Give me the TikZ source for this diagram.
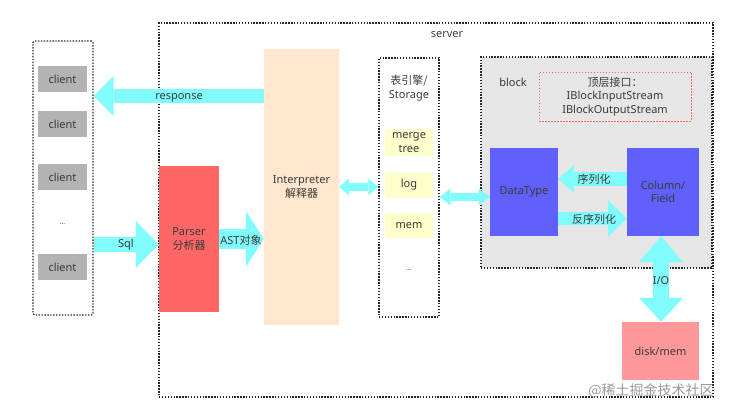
\documentclass[tikz,border=0pt]{standalone}
\usepackage{fontspec}
\setmainfont{Noto Sans}
\newfontfamily\cjk{Noto Sans CJK SC}
\usetikzlibrary{arrows.meta}
\definecolor{cy}{HTML}{80FCFC}
\definecolor{txt}{HTML}{3A3A3A}
\definecolor{cgray}{HTML}{B3B3B3}
\definecolor{peach}{HTML}{FFE6CC}
\definecolor{pred}{HTML}{FF6666}
\definecolor{pyel}{HTML}{FFFFCC}
\definecolor{blk}{HTML}{E6E6E6}
\definecolor{pblue}{HTML}{6060FF}
\definecolor{ppink}{HTML}{FF9999}
\tikzset{
  lbl/.style={text=txt, font=\fontsize{11}{13.5}\selectfont, align=center, inner sep=0pt},
  dotbox/.style={draw=black!85, line width=1.4pt, dash pattern=on 1.4pt off 1.5pt, inner sep=0pt},
  fbox/.style={lbl, draw=none, fill=#1},
  fat/.style={draw=cy, line width=#1pt},
}
\begin{document}
\begin{tikzpicture}[x=1pt,y=-1pt]
\useasboundingbox (0,0) rectangle (732,414);
% containers
\node[dotbox, minimum width=60pt, minimum height=274pt, rounded corners=1.5pt] (clients) at (63,178) {};
\node[dotbox, minimum width=554pt, minimum height=374pt] (server) at (436,210) {};
\node[lbl] (serverlbl) at (447,35) {server};
\node[dotbox, minimum width=60pt, minimum height=259pt] (storage) at (409,187.5) {};
\node[dotbox, fill=blk, minimum width=231pt, minimum height=211pt] (block) at (596.5,162.5) {};
% clients
\node[fbox=cgray, minimum width=49pt, minimum height=26pt] (c1) at (62.5,79) {client};
\node[fbox=cgray, minimum width=49pt, minimum height=26pt] (c2) at (62.5,124) {client};
\node[fbox=cgray, minimum width=49pt, minimum height=26pt] (c3) at (62.5,177) {client};
\node[lbl, font=\fontsize{7}{8}\selectfont] (cdots) at (62.5,224) {...};
\node[fbox=cgray, minimum width=49pt, minimum height=26pt] (c5) at (62.5,267) {client};
% server parts
\node[fbox=pred, minimum width=60pt, minimum height=146pt] (parser) at (189,239) {Parser\\{\cjk 分析器}};
\node[fbox=peach, minimum width=75pt, minimum height=276pt] (interp) at (301.5,187) {Interpreter\\{\cjk 解释器}};
\node[lbl] (stitle) at (409,88) {{\cjk 表引擎/}\\Storage};
\node[fbox=pyel, minimum width=48pt, minimum height=27pt] (merge) at (409,142.5) {merge\\tree};
\node[fbox=pyel, minimum width=48pt, minimum height=26pt] (log) at (409,185) {log};
\node[fbox=pyel, minimum width=48pt, minimum height=25pt] (mem) at (409,225.5) {mem};
\node[lbl, font=\fontsize{7}{8}\selectfont] (sdots) at (409,270) {...};
% block parts
\node[lbl] (blocklbl) at (513,82) {block};
\node[lbl, draw=pred, dash pattern=on 1.5pt off 1.5pt, line width=0.8pt, minimum width=152pt, minimum height=49pt] (iface) at (615,96.5) {{\cjk 顶层接口：}\\IBlockInputStream\\IBlockOutputStream};
\node[fbox=pblue, minimum width=68pt, minimum height=88pt] (dtype) at (524,192) {DataType};
\node[fbox=pblue, minimum width=72pt, minimum height=88pt] (col) at (663,192) {Column/\\Field};
\node[fbox=ppink, minimum width=77pt, minimum height=58pt] (disk) at (660.5,351) {disk/mem};
% fat arrows
\draw[fat=14, -{Triangle[length=20pt,width=40pt,line width=0pt]}] (interp.west |- 0,96) -- (clients.east |- 0,96);
\draw[fat=15, -{Triangle[length=23pt,width=47pt,line width=0pt]}] (clients.east |- 0,244.5) -- (parser.west |- 0,244.5);
\draw[fat=20, -{Triangle[length=18pt,width=56pt,line width=0pt]}] (parser.east |- 0,239) -- (interp.west |- 0,239);
\draw[fat=8, {Triangle[length=10pt,width=17pt,line width=0pt]}-{Triangle[length=10pt,width=17pt,line width=0pt]}] (interp.east |- 0,187) -- (storage.west |- 0,187);
\draw[fat=8, {Triangle[length=11pt,width=17pt,line width=0pt]}-{Triangle[length=11pt,width=17pt,line width=0pt]}] (storage.east |- 0,197) -- (dtype.west |- 0,197);
\draw[fat=14, -{Triangle[length=16pt,width=28pt,line width=0pt]}] (col.west |- 0,179) -- (dtype.east |- 0,179);
\draw[fat=13, -{Triangle[length=19pt,width=37pt,line width=0pt]}] (dtype.east |- 0,218.5) -- (col.west |- 0,218.5);
\draw[fat=16, {Triangle[length=26pt,width=44pt,line width=0pt]}-{Triangle[length=24pt,width=44pt,line width=0pt]}] (col.south -| 661,0) -- (disk.north -| 661,0);
% arrow labels
\node[lbl] (resplbl) at (179,98) {response};
\node[lbl] (sqllbl) at (126,245) {Sql};
\node[lbl] (astlbl) at (241,240) {AST{\cjk 对象}};
\node[lbl] (serlbl) at (594,179) {\cjk 序列化};
\node[lbl] (deslbl) at (594,219) {\cjk 反序列化};
\node[lbl] (iolbl) at (661,281) {I/O};
% watermark
\node[text=black!40, font=\cjk\fontsize{14}{16}\selectfont, inner sep=0pt] (wm) at (651,391) {@稀土掘金技术社区};
\end{tikzpicture}
\end{document}
